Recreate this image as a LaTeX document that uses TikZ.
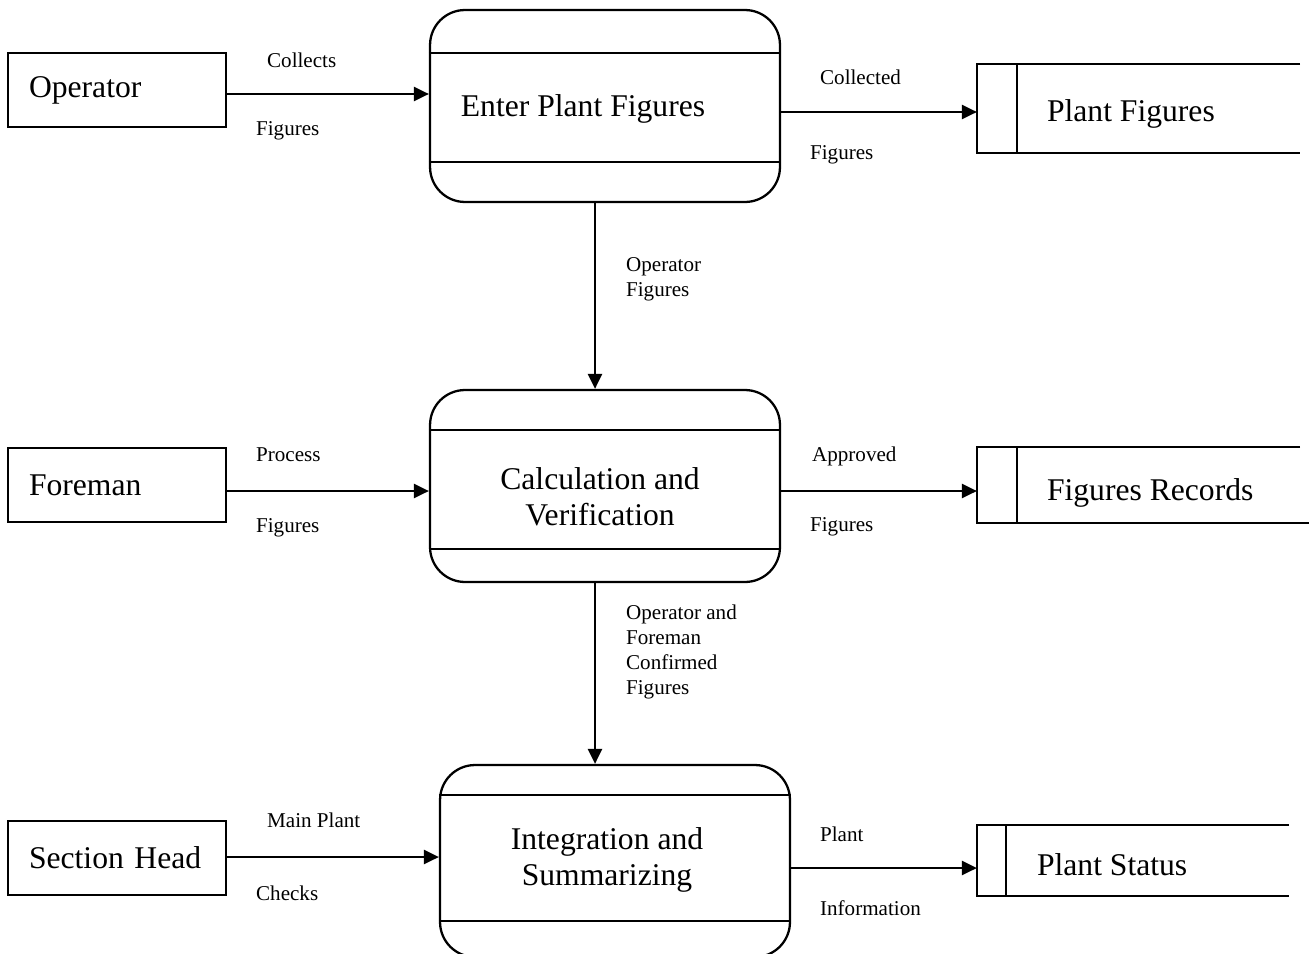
\documentclass[tikz,border=0pt]{standalone}
\usepackage{fontspec}
\setmainfont{Liberation Serif}
\usepackage{tikz}
\usetikzlibrary{arrows.meta}
\usetikzlibrary{positioning}

\begin{document}
\begin{tikzpicture}[x=0.02cm,y=-0.02cm,line width=1.3pt,
  ent/.style={draw,minimum height=1.48cm,text width=3.52cm,inner xsep=0.42cm,align=left,font=\fontsize{18}{20.5}\selectfont},
  proc/.style={draw,rounded corners=0.7cm,minimum width=7cm,minimum height=3.84cm},
  store/.style={minimum width=6.42cm,inner sep=0},
  big/.style={inner sep=0,align=center,font=\fontsize{18}{20.5}\selectfont},
  lbl/.style={inner sep=0,anchor=mid west,align=left,font=\fontsize{12}{14.2}\selectfont},
  lbls/.style={lbl,anchor=west},
  flow/.style={->,>={Triangle[length=0.3cm,width=0.28cm]}}]
\useasboundingbox (0,0) rectangle (1310,953);
% external entities
\node[ent] (op) at (117,90) {Operator};
\node[ent] (fm) at (117,485) {Foreman};
\node[ent] (sh) at (117,858) {Section Head};
% processes
\node[proc] (p1) at (605,106) {};
\node[proc] (p2) at (605,486) {};
\node[proc] (p3) at (615,861) {};
\draw (p1.west |- 0,53) -- (p1.east |- 0,53);
\draw (p1.west |- 0,162) -- (p1.east |- 0,162);
\draw (p2.west |- 0,430) -- (p2.east |- 0,430);
\draw (p2.west |- 0,549) -- (p2.east |- 0,549);
\draw (p3.west |- 0,795) -- (p3.east |- 0,795);
\draw (p3.west |- 0,921) -- (p3.east |- 0,921);
\node[big] (p1t) at (583,109) {Enter Plant Figures};
\node[big] (p2t) at (600,497) {Calculation and\\Verification};
\node[big] (p3t) at (607,860) {Integration and\\Summarizing};
% data stores
\node[store,minimum height=1.74cm] (s1) at (1138.5,108.5) {};
\node[store,minimum height=1.48cm] (s2) at (1138.5,485) {};
\node[store,minimum width=6.2cm,minimum height=1.38cm] (s3) at (1133,860.5) {};
\draw (s1.north east) -- (s1.north west) -- (s1.south west) -- (s1.south east);
\draw ([xshift=0.8cm]s1.north west) -- ([xshift=0.8cm]s1.south west);
\draw (s2.north east) -- (s2.north west) -- (s2.south west) -- ([xshift=0.18cm]s2.south east);
\draw ([xshift=0.8cm]s2.north west) -- ([xshift=0.8cm]s2.south west);
\draw (s3.north east) -- (s3.north west) -- (s3.south west) -- (s3.south east);
\draw ([xshift=0.58cm]s3.north west) -- ([xshift=0.58cm]s3.south west);
\node[big,right=1.38cm of s1.west,yshift=-0.1cm] (s1t) {Plant Figures};
\node[big,right=1.38cm of s2.west,yshift=-0.16cm] (s2t) {Figures Records};
\node[big,right=1.18cm of s3.west,yshift=-0.08cm] (s3t) {Plant Status};
% flows
\draw[flow] (op.east |- 0,94) -- (p1.west |- 0,94);
\draw[flow] (p1.east |- 0,112) -- (s1.west |- 0,112);
\draw[flow] (595,0 |- p1.south) -- (595,0 |- p2.north);
\draw[flow] (fm.east |- 0,491) -- (p2.west |- 0,491);
\draw[flow] (p2.east |- 0,491) -- (s2.west |- 0,491);
\draw[flow] (595,0 |- p2.south) -- (595,0 |- p3.north);
\draw[flow] (sh.east |- 0,857) -- (p3.west |- 0,857);
\draw[flow] (p3.east |- 0,868) -- (s3.west |- 0,868);
% flow labels
\node[lbl] (l1a) at (266,63) {Collects};
\node[lbl] (l1b) at (255,131) {Figures};
\node[lbl] (l2a) at (819,80) {Collected};
\node[lbl] (l2b) at (809,155) {Figures};
\node[lbls] (l3) at (625,279) {Operator\\Figures};
\node[lbl] (l4a) at (255,457) {Process};
\node[lbl] (l4b) at (255,528) {Figures};
\node[lbl] (l5a) at (811,457) {Approved};
\node[lbl] (l5b) at (809,527) {Figures};
\node[lbls] (l6) at (625,652) {Operator and\\Foreman\\Confirmed\\Figures};
\node[lbl] (l7a) at (266,823) {Main Plant};
\node[lbl] (l7b) at (255,896) {Checks};
\node[lbl] (l8a) at (819,837) {Plant};
\node[lbl] (l8b) at (819,911) {Information};
\end{tikzpicture}
\end{document}
